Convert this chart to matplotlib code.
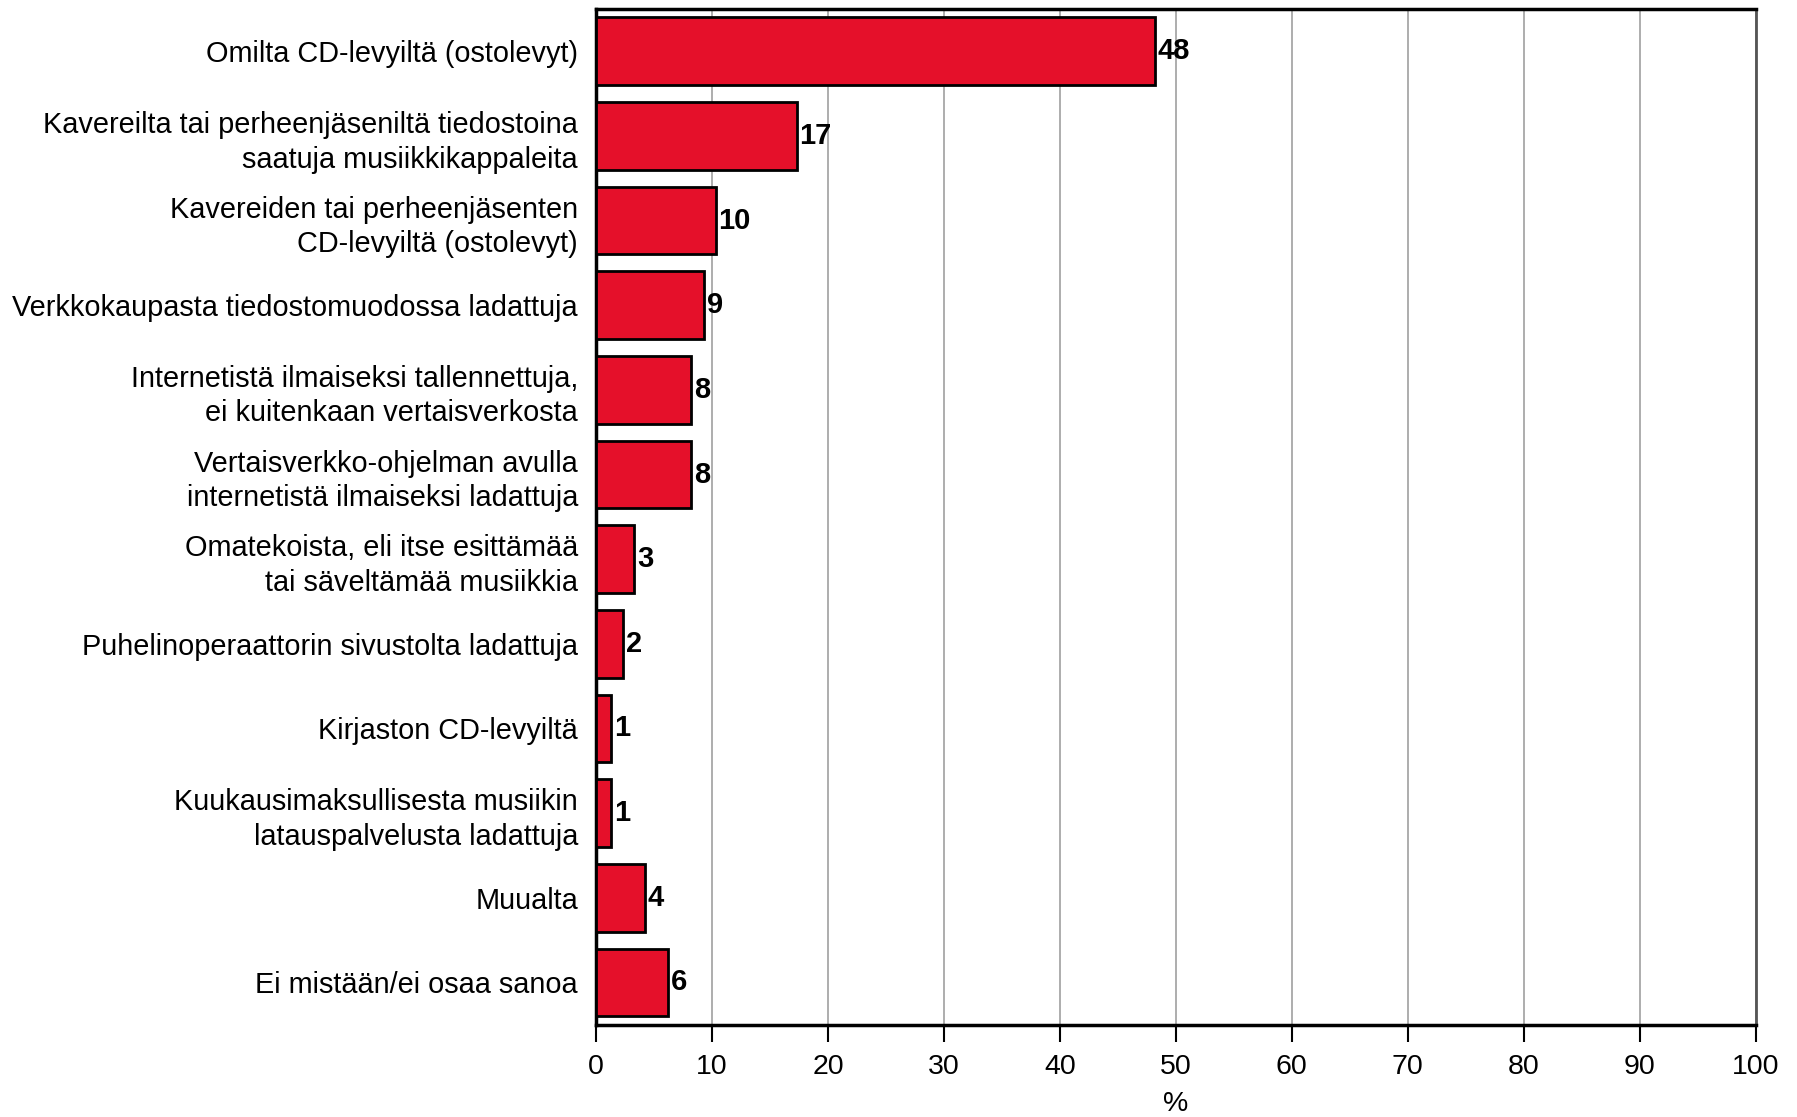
import matplotlib
matplotlib.use("Agg")
import matplotlib.pyplot as plt

categories = [
    "Omilta CD-levyiltä (ostolevyt)",
    "Kavereilta tai perheenjäseniltä tiedostoina\nsaatuja musiikkikappaleita",
    "Kavereiden tai perheenjäsenten\nCD-levyiltä (ostolevyt)",
    "Verkkokaupasta tiedostomuodossa ladattuja",
    "Internetistä ilmaiseksi tallennettuja,\nei kuitenkaan vertaisverkosta",
    "Vertaisverkko-ohjelman avulla\ninternetistä ilmaiseksi ladattuja",
    "Omatekoista, eli itse esittämää\ntai säveltämää musiikkia",
    "Puhelinoperaattorin sivustolta ladattuja",
    "Kirjaston CD-levyiltä",
    "Kuukausimaksullisesta musiikin\nlatauspalvelusta ladattuja",
    "Muualta",
    "Ei mistään/ei osaa sanoa",
]
values = [48.2, 17.3, 10.3, 9.3, 8.2, 8.2, 3.3, 2.3, 1.3, 1.3, 4.2, 6.2]
value_labels = ["48", "17", "10", "9", "8", "8", "3", "2", "1", "1", "4", "6"]
xticks = list(range(0, 101, 10))

plt.rcParams['font.family'] = ['Liberation Sans', 'DejaVu Sans']

fig = plt.figure(figsize=(17.97, 11.17), dpi=100)
ax = fig.add_axes([0.3317, 0.0826, 0.977 - 0.3317, 0.992 - 0.0826])

y = list(range(len(categories)))
bars = ax.barh(y, values, height=0.8, color="#E5102A", edgecolor="black",
               linewidth=2.0, zorder=3)
for b, lab in zip(bars, value_labels):
    ax.text(b.get_width() + 0.25, b.get_y() + b.get_height() / 2, lab,
            va="center", ha="left", fontsize=21, fontweight="bold", zorder=4)

ax.set_ylim(len(categories) - 0.5, -0.5)
ax.set_xlim(0, 100)
ax.set_yticks(y)
ax.set_yticklabels(categories, fontsize=20.8, linespacing=1.3)
ax.set_xticks(xticks)
ax.set_xticklabels([str(t) for t in xticks], fontsize=20.5)
ax.tick_params(axis="y", length=0, pad=13)
ax.tick_params(axis="x", length=12, width=1.5, pad=9, direction="out")
ax.xaxis.grid(True, color="#A0A0A0", linewidth=1.2, zorder=0)
ax.set_axisbelow(True)
for s in ["left", "bottom", "top"]:
    ax.spines[s].set_linewidth(2.5)
    ax.spines[s].set_color("black")
ax.spines["right"].set_linewidth(2.0)
ax.spines["right"].set_color("#555555")
ax.set_xlabel("%", fontsize=20.5, labelpad=8)

fig.savefig("out.png", dpi=100)
